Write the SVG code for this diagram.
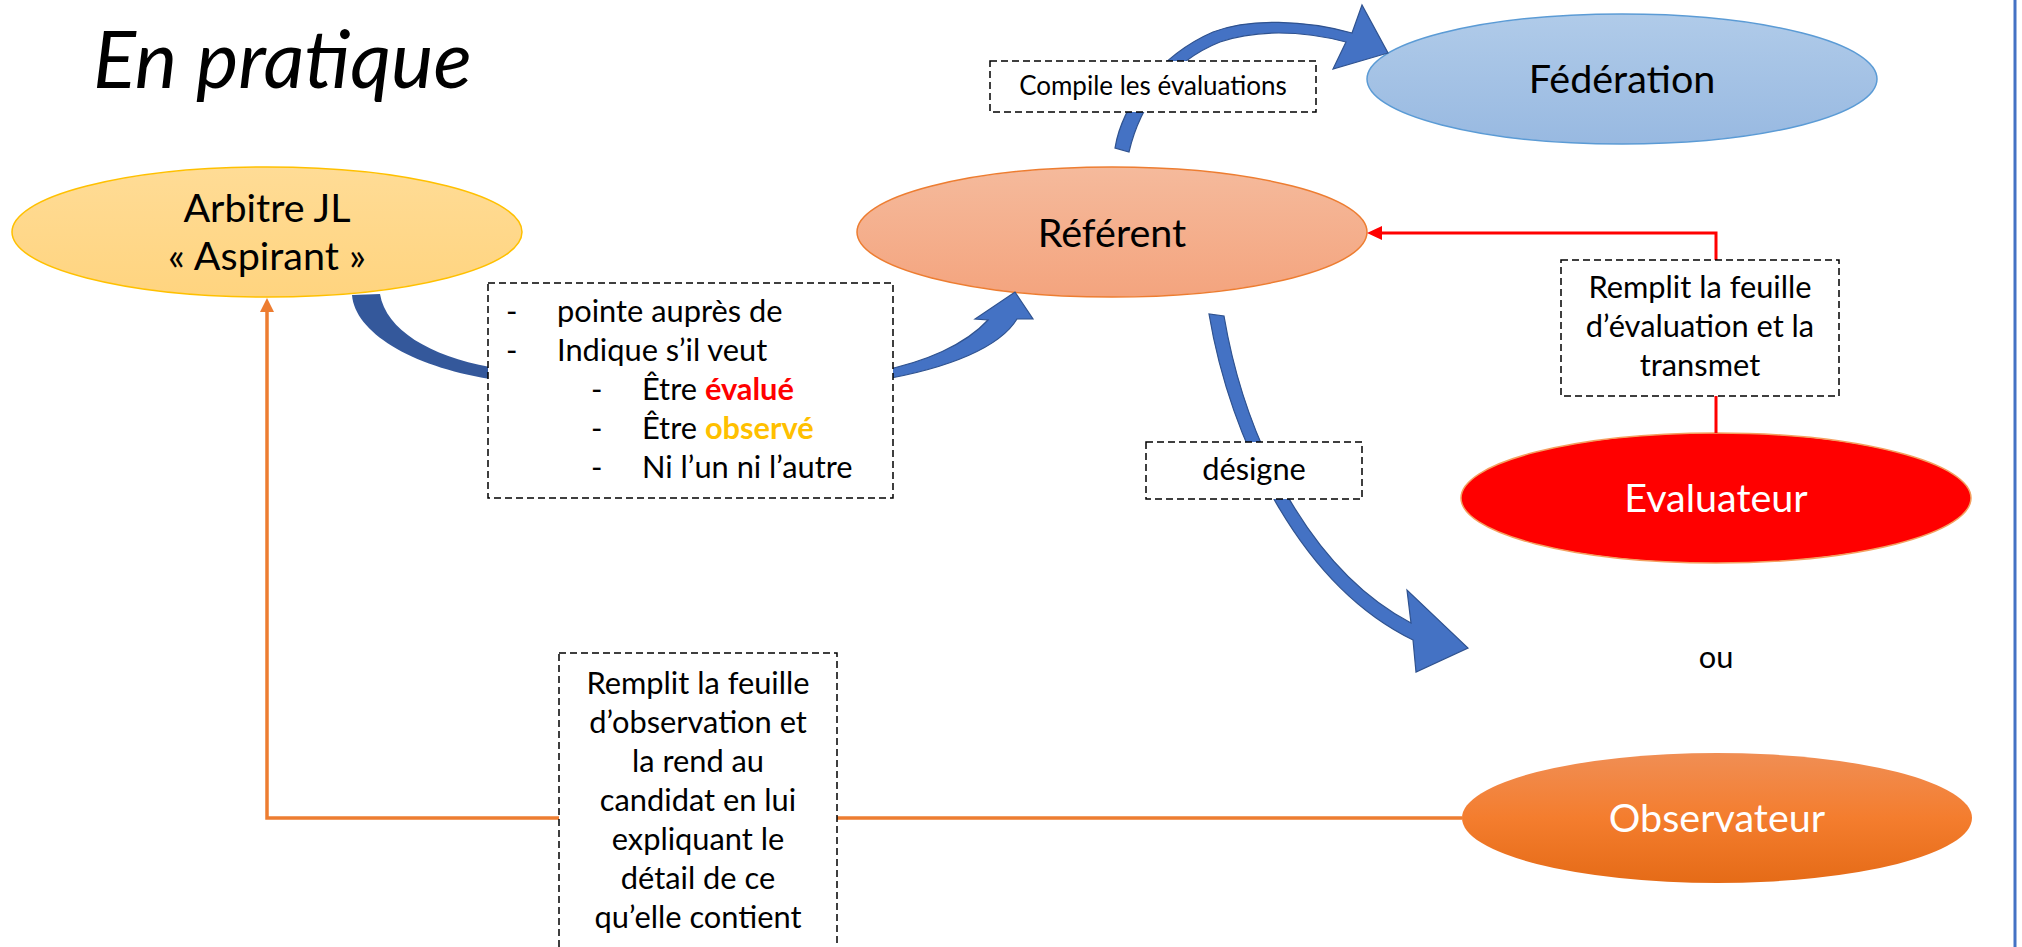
<svg xmlns="http://www.w3.org/2000/svg" width="2022" height="947" viewBox="0 0 2022 947">
<defs>
<linearGradient id="gArb" x1="0" y1="0" x2="0" y2="1"><stop offset="0" stop-color="#FFDC96"/><stop offset="1" stop-color="#FFD47F"/></linearGradient>
<linearGradient id="gRef" x1="0" y1="0" x2="0" y2="1"><stop offset="0" stop-color="#F5BA9C"/><stop offset="1" stop-color="#F4A47E"/></linearGradient>
<linearGradient id="gFed" x1="0" y1="0" x2="0" y2="1"><stop offset="0" stop-color="#B0CBE9"/><stop offset="1" stop-color="#98B9E1"/></linearGradient>
<linearGradient id="gObs" x1="0" y1="0" x2="0" y2="1"><stop offset="0" stop-color="#F08E54"/><stop offset="0.5" stop-color="#F47D2E"/><stop offset="1" stop-color="#E56B17"/></linearGradient>
</defs>
<style>
text{font-family:Lato,"Liberation Sans",sans-serif;fill:#000}
.big{font-size:39.5px;text-anchor:middle}
.mid{font-size:30.8px}
.c{text-anchor:middle}
.w{fill:#fff}
.box{fill:#fff;stroke:#000;stroke-width:1.5;stroke-dasharray:7 4}
.blue{fill:#4472C4;stroke:#2F528F;stroke-width:1.2}
</style>
<rect width="2022" height="947" fill="#fff"/>
<line x1="2015" y1="0" x2="2015" y2="947" stroke="#4472C4" stroke-width="3"/>
<text x="93" y="88" style="font-size:80px;font-style:italic;font-weight:400">En pratique</text>

<g id="node-arbitre">
<ellipse cx="267" cy="232" rx="255" ry="65" fill="url(#gArb)" stroke="#FFC000" stroke-width="1.5"/>
<text class="big" x="267" y="222">Arbitre JL</text>
<text class="big" x="267" y="270">« Aspirant »</text>
</g>
<g id="node-referent">
<ellipse cx="1112" cy="232" rx="255" ry="65" fill="url(#gRef)" stroke="#ED7D31" stroke-width="1.5"/>
<text class="big" x="1112" y="247">Référent</text>
</g>
<g id="node-federation">
<ellipse cx="1622" cy="79" rx="255" ry="65" fill="url(#gFed)" stroke="#5B9BD5" stroke-width="1.5"/>
<text class="big" x="1622" y="93">Fédération</text>
</g>
<g id="node-evaluateur">
<ellipse cx="1716" cy="498" rx="255" ry="65" fill="#FF0000" stroke="#F4A060" stroke-width="1.5"/>
<text class="big w" x="1716" y="512">Evaluateur</text>
</g>
<g id="node-observateur">
<ellipse cx="1717" cy="818" rx="255" ry="65" fill="url(#gObs)"/>
<text class="big w" x="1717" y="832">Observateur</text>
</g>
<text class="mid c" x="1716" y="668">ou</text>

<g id="connectors">
<path d="M1716,433 V233 H1380" fill="none" stroke="#FF0000" stroke-width="3"/>
<polygon points="1367,233 1382,226 1382,240" fill="#FF0000"/>
<path d="M1462,818 H267 V310" fill="none" stroke="#ED7D31" stroke-width="3.5"/>
<polygon points="267,298 274,312 260,312" fill="#ED7D31"/>
<path d="M352,295 C355,332 410,366 490,379 L490,367 C430,356 386,330 380,294 Z" fill="#34589B"/>
<path class="blue" d="M880,371 C925,362 965,345 988,320 L975,319 L1015,292 L1033,319 L1017,319 C1000,347 950,368 880,380 Z"/>
<path class="blue" d="M1115,148 C1122,105 1160,55 1213,32 C1250,18 1305,20 1352,33 L1362,5 L1388,53 L1333,69 L1346,42 C1300,30 1255,30 1220,42 C1170,62 1140,105 1129,152 Z"/>
<path class="blue" d="M1209,314 C1230,440 1300,585 1413,640 L1416,672 L1468,648 L1407,590 L1411,623 C1310,570 1245,440 1224,316 Z"/>
</g>

<g id="label-compile">
<rect class="box" x="990" y="61" width="326" height="51"/>
<text class="c" x="1153" y="95" style="font-size:26px">Compile les évaluations</text>
</g>
<g id="label-pointe">
<rect class="box" x="488" y="283" width="405" height="215"/>
<text class="mid" y="322"><tspan x="506">-</tspan><tspan x="557">pointe auprès de</tspan></text>
<text class="mid" y="361"><tspan x="506">-</tspan><tspan x="557">Indique s’il veut</tspan></text>
<text class="mid" y="400"><tspan x="591">-</tspan><tspan x="642">Être </tspan><tspan style="fill:#FF0000;font-weight:bold">évalué</tspan></text>
<text class="mid" y="439"><tspan x="591">-</tspan><tspan x="642">Être </tspan><tspan style="fill:#FFC000;font-weight:bold">observé</tspan></text>
<text class="mid" y="478"><tspan x="591">-</tspan><tspan x="642">Ni l’un ni l’autre</tspan></text>
</g>
<g id="label-evaluation">
<rect class="box" x="1561" y="260" width="278" height="136"/>
<text class="mid c" x="1700" y="298">Remplit la feuille</text>
<text class="mid c" x="1700" y="337">d’évaluation et la</text>
<text class="mid c" x="1700" y="376">transmet</text>
</g>
<g id="label-designe">
<rect class="box" x="1146" y="442" width="216" height="57"/>
<text class="mid c" x="1254" y="480">désigne</text>
</g>
<g id="label-observation">
<rect class="box" x="559" y="653" width="278" height="320"/>
<text class="mid c" x="698" y="694">Remplit la feuille</text>
<text class="mid c" x="698" y="733">d’observation et</text>
<text class="mid c" x="698" y="772">la rend au</text>
<text class="mid c" x="698" y="811">candidat en lui</text>
<text class="mid c" x="698" y="850">expliquant le</text>
<text class="mid c" x="698" y="889">détail de ce</text>
<text class="mid c" x="698" y="928">qu’elle contient</text>
</g>
</svg>
